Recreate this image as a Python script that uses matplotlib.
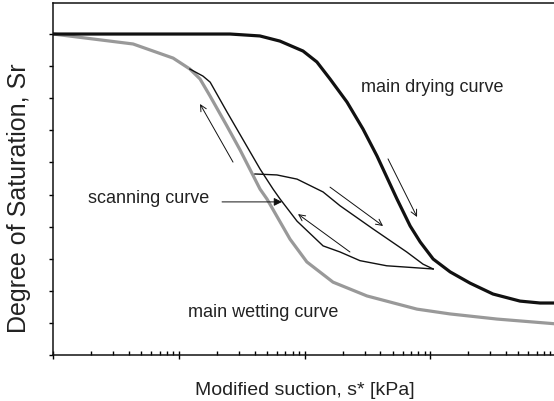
import matplotlib
matplotlib.use("Agg")
import matplotlib.pyplot as plt
from matplotlib.ticker import LogLocator, MultipleLocator, NullFormatter

# main drying curve: suction s* [kPa] vs degree of saturation Sr
DRY_S = [1, 5.9, 25.5, 44, 63.5, 97, 125, 159, 217, 291, 376, 542, 690, 830,
         1052, 1435, 2066, 3148, 5160, 7450, 10000]
DRY_SR = [1.0, 1.0, 1.0, 0.994, 0.978, 0.947, 0.913, 0.860, 0.788, 0.704, 0.620,
          0.486, 0.402, 0.352, 0.299, 0.259, 0.224, 0.190, 0.168, 0.162, 0.162]

# main wetting curve
WET_S = [1, 4.31, 8.98, 12.2, 14.7, 17.65, 24.1, 30.6, 44.1, 50.1, 76.4, 104,
         168, 313, 781, 1431, 3390, 10000]
WET_SR = [1.0, 0.969, 0.925, 0.891, 0.860, 0.807, 0.713, 0.639, 0.517, 0.486,
          0.361, 0.290, 0.227, 0.184, 0.143, 0.128, 0.112, 0.097]

# scanning curves (thin)
SCAN_WET_S = [12.2, 15.5, 17.7, 24.1, 44.2, 56.0, 63.7, 86.9, 140, 191, 275,
              449, 690, 1052]
SCAN_WET_SR = [0.891, 0.869, 0.850, 0.757, 0.579, 0.517, 0.486, 0.417, 0.340,
               0.321, 0.294, 0.278, 0.273, 0.268]
SCAN_DRY_S = [40.2, 60.1, 86.9, 140, 191, 349, 648, 874, 1052]
SCAN_DRY_SR = [0.564, 0.561, 0.548, 0.508, 0.465, 0.393, 0.321, 0.283, 0.268]

# direction arrows: (tail, tip)
ARROWS = [
    ((26.9, 0.601), (14.7, 0.782)),
    ((229, 0.321), (88.5, 0.439)),
    ((159, 0.523), (420, 0.402)),
    ((460, 0.611), (783, 0.430)),
]
LABEL_ARROW = ((22.0, 0.477), (66.0, 0.477))

LABELS = [
    ("main drying curve", 279, 0.835),
    ("scanning curve", 1.89, 0.492),
    ("main wetting curve", 11.8, 0.137),
]

FONT = ["Liberation Sans", "DejaVu Sans"]

fig = plt.figure(figsize=(5.54, 4.02), dpi=100)
ax = fig.add_axes([0.0962, 0.1144, 0.9076, 0.8756])

ax.plot(WET_S, WET_SR, color="#999999", lw=2.3, solid_joinstyle="round")
ax.plot(DRY_S, DRY_SR, color="#111111", lw=2.3, solid_joinstyle="round")
ax.plot(SCAN_WET_S, SCAN_WET_SR, color="#111111", lw=1.0)
ax.plot(SCAN_DRY_S, SCAN_DRY_SR, color="#111111", lw=1.0)

for tail, tip in ARROWS:
    ax.annotate("", xy=tip, xytext=tail,
                arrowprops=dict(arrowstyle="->", lw=0.7, color="#111111",
                                shrinkA=0, shrinkB=0, mutation_scale=11))
ax.annotate("", xy=LABEL_ARROW[1], xytext=LABEL_ARROW[0],
            arrowprops=dict(arrowstyle="-|>", lw=0.7, color="#111111",
                            shrinkA=0, shrinkB=0, mutation_scale=12))

for txt, x, y in LABELS:
    ax.text(x, y, txt, ha="left", va="center", fontsize=13,
            family=FONT, color="#222222")

ax.set_xscale("log")
ax.set_xlim(1, 1e4)
ax.set_ylim(0, 1.0966)

ax.xaxis.set_major_locator(LogLocator(base=10, numticks=10))
ax.xaxis.set_minor_locator(LogLocator(base=10, subs=range(2, 10), numticks=50))
ax.xaxis.set_major_formatter(NullFormatter())
ax.xaxis.set_minor_formatter(NullFormatter())
ax.yaxis.set_major_locator(MultipleLocator(0.1))
ax.yaxis.set_major_formatter(NullFormatter())

ax.tick_params(axis="x", which="major", direction="inout", length=6, width=1.0)
ax.tick_params(axis="x", which="minor", direction="in", length=2.7, width=1.0)
ax.tick_params(axis="y", which="major", direction="out", length=3, width=1.0)

for sp in ax.spines.values():
    sp.set_linewidth(1.1)
    sp.set_color("#111111")

ax.set_xlabel("Modified suction, s* [kPa]", fontsize=14, family=FONT,
              color="#222222", va="baseline")
ax.xaxis.set_label_coords(0.4996, -0.1108)
ax.set_ylabel("Degree of Saturation, Sr", fontsize=18, family=FONT,
              color="#222222", va="baseline")
ax.yaxis.set_label_coords(-0.0533, 0.447)

fig.savefig("out.png", dpi=100)
